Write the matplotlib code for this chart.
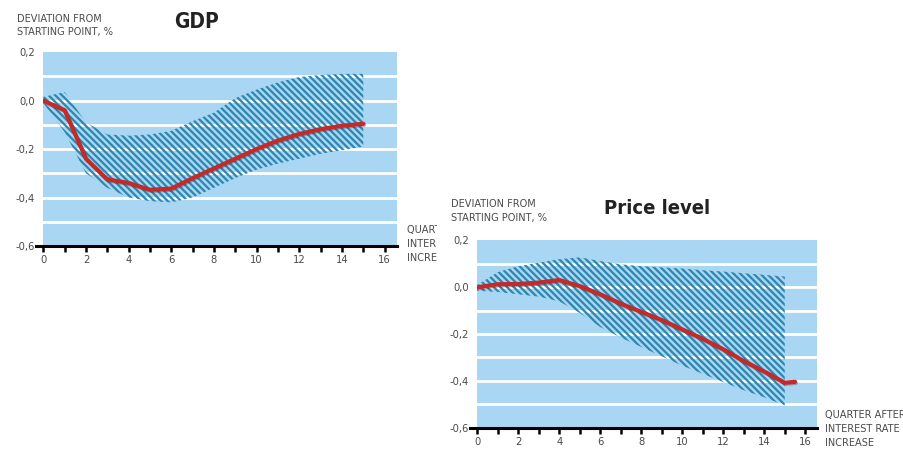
import matplotlib
matplotlib.use("Agg")
import matplotlib.pyplot as plt
import matplotlib.patheffects as pe
from matplotlib.ticker import FixedLocator
from matplotlib.transforms import Bbox

plt.rcParams['font.family'] = ['DejaVu Sans']
plt.rcParams['font.stretch'] = 'condensed'
plt.rcParams['hatch.linewidth'] = 1.6

# GDP response, % deviation from starting point
gdp_q = [0, 1, 2, 3, 4, 5, 6, 7, 8, 9, 10, 11, 12, 13, 14, 15]
gdp_mean = [0.0, -0.04, -0.24, -0.325, -0.34, -0.368, -0.363, -0.32, -0.28,
            -0.24, -0.2, -0.165, -0.138, -0.118, -0.104, -0.096]
gdp_upper = [0.015, 0.035, -0.09, -0.14, -0.145, -0.14, -0.125, -0.085, -0.05,
             0.01, 0.045, 0.075, 0.097, 0.105, 0.11, 0.11]
gdp_lower = [-0.01, -0.13, -0.30, -0.36, -0.40, -0.415, -0.42, -0.40, -0.36,
             -0.32, -0.285, -0.26, -0.24, -0.22, -0.205, -0.19]

# price level response
price_q = [0, 1, 2, 3, 4, 5, 6, 7, 8, 9, 10, 11, 12, 13, 14, 15, 15.5]
price_mean = [0.0, 0.013, 0.014, 0.02, 0.031, 0.005, -0.03, -0.07, -0.105,
              -0.14, -0.18, -0.22, -0.265, -0.315, -0.36, -0.408, -0.404]
band_q = [0, 1, 2, 3, 4, 5, 6, 7, 8, 9, 10, 11, 12, 13, 14, 15]
price_upper = [0.01, 0.065, 0.09, 0.105, 0.12, 0.128, 0.112, 0.098, 0.09,
               0.085, 0.08, 0.073, 0.067, 0.06, 0.053, 0.046]
price_lower = [-0.015, -0.02, -0.03, -0.04, -0.06, -0.11, -0.17, -0.215,
               -0.255, -0.295, -0.335, -0.37, -0.405, -0.44, -0.47, -0.505]

x_ticks = list(range(17))
x_labels = [str(i) if i % 2 == 0 else '' for i in x_ticks]
y_ticks = [0.2, 0.0, -0.2, -0.4, -0.6]
y_labels = ['0,2', '0,0', '-0,2', '-0,4', '-0,6']
grid_levels = [0.1, 0.0, -0.1, -0.2, -0.3, -0.4, -0.5]

BG = '#a9d6f2'
STRIPE = '#2b86b0'
RED = '#c42a2a'
TXT = '#4a4a4a'

fig = plt.figure(figsize=(9.04, 4.5), dpi=100)
ax_gdp = fig.add_axes([0.0479, 0.4533, 0.3910, 0.4311])
ax_price = fig.add_axes([0.5280, 0.0496, 0.3757, 0.4160])


def style_axes(ax):
    ax.set_facecolor(BG)
    ax.set_xlim(0, 16.57)
    ax.set_ylim(-0.6, 0.2)
    for side in ['top', 'right', 'left']:
        ax.spines[side].set_visible(False)
    ax.spines['bottom'].set_linewidth(2.2)
    ax.spines['bottom'].set_color('black')
    ax.spines['bottom'].set_bounds(-0.35, 16.57)
    ax.set_xticks(x_ticks)
    ax.set_xticklabels(x_labels)
    ax.set_yticks(y_ticks)
    ax.set_yticklabels(y_labels)
    ax.yaxis.remove_overlapping_locs = False
    ax.yaxis.set_minor_locator(FixedLocator(grid_levels))
    ax.tick_params(axis='x', direction='out', length=4.5, width=1.8,
                   color='black', labelsize=8, labelcolor=TXT, pad=2)
    ax.tick_params(axis='y', which='both', length=0, labelsize=8,
                   labelcolor=TXT, pad=6)
    ax.set_axisbelow(True)
    ax.grid(which='minor', axis='y', color='white', linewidth=2)
    ax.grid(which='major', visible=False)


def draw_series(ax, bq, lo, hi, q, mean):
    ax.fill_between(bq, lo, hi, facecolor='none', edgecolor=STRIPE,
                    hatch='\\' * 5, linewidth=0, zorder=1)
    ax.plot(q, mean, color=RED, linewidth=3, solid_joinstyle='round',
            solid_capstyle='round', zorder=3,
            path_effects=[pe.SimpleLineShadow(offset=(0.6, -0.8),
                                              shadow_color='#5a1a1a', alpha=0.35),
                          pe.Normal()])


style_axes(ax_gdp)
style_axes(ax_price)
draw_series(ax_gdp, gdp_q, gdp_lower, gdp_upper, gdp_q, gdp_mean)
draw_series(ax_price, band_q, price_lower, price_upper, price_q, price_mean)

W, H = 904, 450


def fx(px):
    return px / W


def fy(py):
    return 1 - py / H


# titles
fig.text(fx(197), fy(22), 'GDP', ha='center', va='center',
         fontsize=15, fontweight='bold', color='#222222')
fig.text(fx(657), fy(209), 'Price level', ha='center', va='center',
         fontsize=14.5, fontweight='bold', color='#222222')

# y-axis captions
ylab = 'DEVIATION FROM\nSTARTING POINT, %'
fig.text(fx(17), fy(25.5), ylab, ha='left', va='center', fontsize=7.8,
         color=TXT, linespacing=1.5)
fig.text(fx(451), fy(211), ylab, ha='left', va='center', fontsize=7.8,
         color=TXT, linespacing=1.5)

# x-axis captions; the left one runs into the neighbouring panel and is cut
xlab = 'QUARTER AFTER\nINTEREST RATE\nINCREASE'
t = fig.text(fx(407), fy(244), xlab, ha='left', va='center', fontsize=7.8,
             color=TXT, linespacing=1.45)
t.set_clip_box(Bbox.from_extents(0, 0, 437, H))
t.set_clip_on(True)
fig.text(fx(825), fy(429), xlab, ha='left', va='center', fontsize=7.8,
         color=TXT, linespacing=1.45)

fig.savefig('out.png', dpi=100)
